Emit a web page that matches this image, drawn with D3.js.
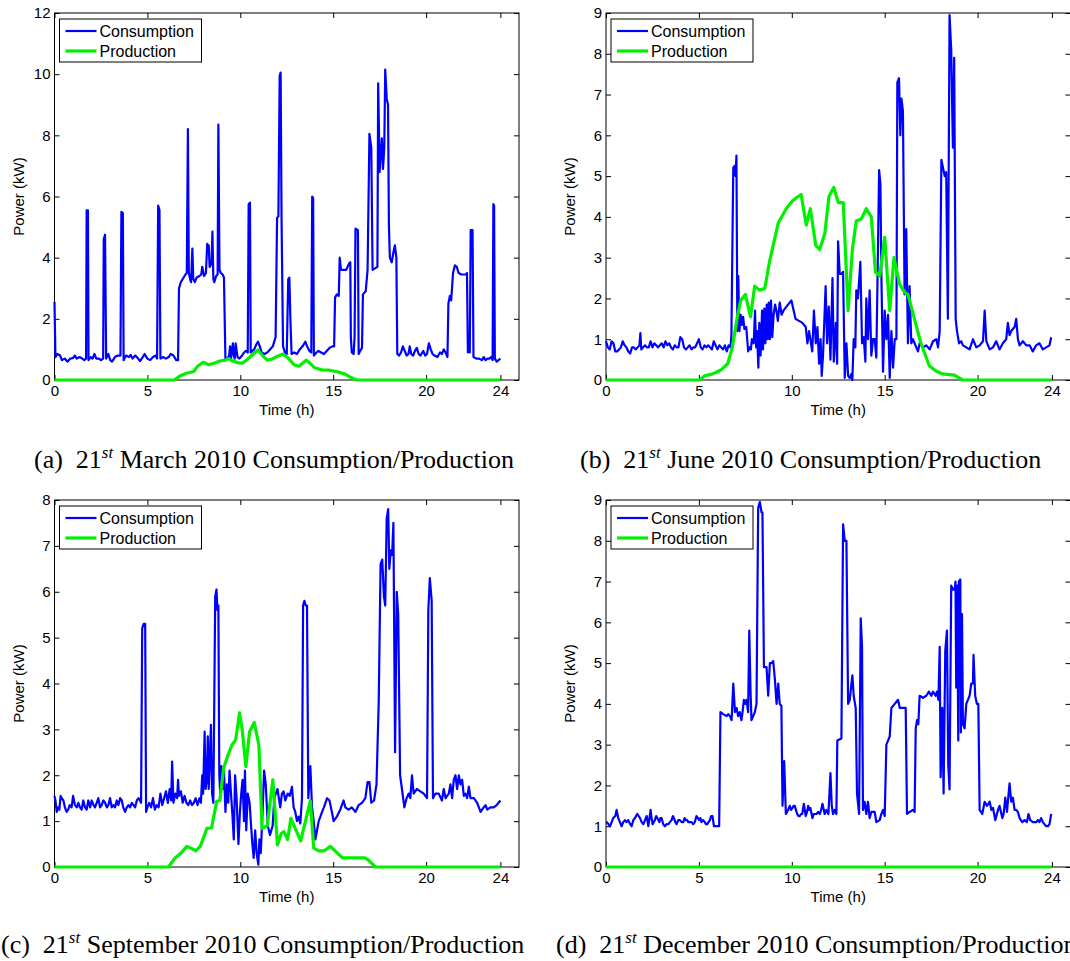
<!DOCTYPE html>
<html>
<head>
<meta charset="utf-8">
<script src="https://cdn.jsdelivr.net/npm/d3@7/dist/d3.min.js"></script>
<style>
  html, body { margin: 0; padding: 0; background: #fff; }
  svg { display: block; }
  .axis text { font-family: "Liberation Sans", Arial, sans-serif; font-size: 15px; fill: #000; }
  .axis path { display: none; }
  .axis line { stroke: #000; stroke-width: 1; }
</style>
</head>
<body>
<svg id="fig" width="1070" height="961"></svg>
<script>
// Household power, sampled over one day [hour, kW]

// 21 March 2010
const marchConsumption = [
  [0,2.55],[0.05,0.75],[0.15,0.85],[0.3,0.8],[0.4,0.65],[0.55,0.7],[0.7,0.6],[0.85,0.7],[1.0,0.72],[1.1,0.8],
  [1.2,0.7],[1.35,0.75],[1.5,0.7],[1.6,0.65],[1.7,0.7],[1.73,5.55],[1.8,5.55],[1.83,0.65],[1.95,0.75],[2.05,0.7],
  [2.15,0.85],[2.25,0.7],[2.4,0.7],[2.5,0.65],[2.62,0.7],[2.65,4.6],[2.72,4.75],[2.78,0.7],[2.9,0.85],[3.0,0.65],
  [3.1,0.6],[3.25,0.75],[3.4,0.8],[3.55,0.8],[3.6,5.5],[3.68,5.45],[3.72,0.65],[3.85,0.8],[4.0,0.75],[4.1,0.82],
  [4.2,0.7],[4.35,0.8],[4.5,0.7],[4.6,0.62],[4.75,0.75],[4.85,0.85],[5.0,0.7],[5.15,0.65],[5.3,0.75],[5.45,0.8],
  [5.52,0.7],[5.58,5.7],[5.65,5.55],[5.7,0.7],[5.85,0.75],[6.0,0.7],[6.15,0.75],[6.25,0.85],[6.4,0.8],[6.55,0.65],
  [6.65,0.65],[6.7,3.0],[6.8,3.2],[6.95,3.35],[7.05,3.45],[7.12,3.5],[7.18,8.2],[7.23,3.5],[7.3,3.3],[7.35,3.2],
  [7.42,4.3],[7.47,3.3],[7.55,3.2],[7.65,3.35],[7.8,3.4],[7.9,3.45],[7.95,3.7],[8.05,3.4],[8.15,3.5],[8.22,4.45],
  [8.27,4.2],[8.3,4.4],[8.35,3.7],[8.45,3.8],[8.5,4.85],[8.55,3.3],[8.6,3.2],[8.7,3.4],[8.78,3.45],[8.82,8.35],
  [8.88,3.6],[8.95,3.5],[9.05,3.45],[9.12,3.35],[9.2,0.65],[9.3,0.7],[9.4,0.8],[9.45,1.1],[9.5,0.7],[9.6,1.2],
  [9.65,0.8],[9.7,0.7],[9.75,1.2],[9.85,0.75],[9.95,0.7],[10.1,0.8],[10.2,0.9],[10.3,0.95],[10.4,0.9],[10.45,5.75],
  [10.52,5.8],[10.56,0.9],[10.65,0.95],[10.75,1.0],[10.85,1.15],[10.95,1.25],[11.05,1.1],[11.15,0.9],[11.3,0.85],[11.45,0.9],
  [11.6,1.0],[11.75,1.1],[11.9,1.4],[11.98,5.3],[12.05,5.35],[12.12,9.95],[12.17,10.05],[12.22,5.3],[12.3,1.1],[12.4,0.9],
  [12.5,0.85],[12.58,3.3],[12.64,3.35],[12.7,1.9],[12.76,0.85],[12.9,0.9],[13.05,0.85],[13.2,1.0],[13.35,1.1],[13.5,1.25],
  [13.6,1.1],[13.72,0.95],[13.82,0.9],[13.87,6.0],[13.92,5.95],[13.96,0.8],[14.1,0.9],[14.2,0.95],[14.35,0.9],[14.5,0.85],
  [14.65,0.95],[14.8,1.05],[14.95,1.1],[15.05,1.1],[15.1,2.7],[15.2,2.8],[15.3,2.75],[15.35,4.0],[15.42,3.6],[15.55,3.6],
  [15.7,3.6],[15.85,3.8],[15.92,3.85],[15.95,1.4],[16.0,0.9],[16.1,0.85],[16.15,1.4],[16.2,4.95],[16.33,4.9],[16.37,0.85],
  [16.45,0.95],[16.55,1.05],[16.6,2.8],[16.75,2.9],[16.85,3.6],[16.95,8.05],[17.05,7.6],[17.12,3.6],[17.25,3.65],[17.38,3.7],
  [17.42,9.7],[17.5,6.8],[17.55,7.3],[17.62,7.9],[17.68,6.9],[17.75,7.6],[17.8,10.15],[17.88,9.2],[17.95,9.0],[18.0,5.0],
  [18.05,4.0],[18.15,3.85],[18.25,4.2],[18.32,4.4],[18.4,4.0],[18.45,0.85],[18.55,0.8],[18.65,0.9],[18.75,1.1],[18.85,0.95],
  [18.95,0.8],[19.05,0.85],[19.12,1.1],[19.2,0.85],[19.3,0.8],[19.4,0.95],[19.5,1.05],[19.6,0.85],[19.7,0.8],[19.85,0.95],
  [19.95,0.8],[20.05,0.85],[20.15,1.2],[20.25,1.0],[20.35,0.85],[20.45,0.8],[20.6,0.75],[20.75,0.9],[20.85,0.85],[20.95,1.0],
  [21.05,0.9],[21.15,0.75],[21.2,2.5],[21.28,2.75],[21.35,2.6],[21.45,3.5],[21.55,3.75],[21.65,3.7],[21.75,3.5],[21.9,3.45],
  [22.05,3.45],[22.15,3.45],[22.2,3.5],[22.25,0.9],[22.3,1.35],[22.35,0.9],[22.4,4.9],[22.5,4.9],[22.55,0.75],[22.7,0.7],
  [22.85,0.7],[23.0,0.65],[23.1,0.75],[23.2,0.65],[23.3,0.7],[23.4,0.7],[23.5,0.75],[23.58,0.65],[23.62,5.75],[23.66,5.7],
  [23.7,0.7],[23.8,0.6],[23.9,0.65],[24.0,0.7]
];
const marchProduction = [
  [0,0],[6.45,0],[6.8,0.15],[7.1,0.22],[7.5,0.28],[7.7,0.45],[8.0,0.58],[8.3,0.5],[8.6,0.55],[8.9,0.62],
  [9.2,0.65],[9.35,0.7],[9.6,0.62],[9.9,0.56],[10.1,0.55],[10.4,0.68],[10.7,0.85],[10.95,0.98],[11.2,0.8],[11.45,0.65],
  [11.7,0.68],[12.0,0.78],[12.3,0.85],[12.6,0.7],[12.9,0.5],[13.15,0.45],[13.35,0.55],[13.55,0.65],[13.75,0.55],[14.0,0.4],
  [14.4,0.33],[14.8,0.32],[15.2,0.27],[15.6,0.2],[15.9,0.1],[16.25,0],[24,0]
];

// 21 June 2010
const juneConsumption = [
  [0,0.95],[0.1,0.8],[0.2,0.75],[0.3,0.95],[0.4,0.9],[0.5,0.7],[0.6,0.7],[0.7,0.75],[0.8,0.8],[0.9,0.95],
  [1.0,0.85],[1.1,0.8],[1.2,0.7],[1.3,0.65],[1.4,0.8],[1.5,0.8],[1.6,0.75],[1.7,0.8],[1.8,0.85],[1.85,1.15],
  [1.9,0.75],[2.0,0.8],[2.1,0.85],[2.2,0.8],[2.3,0.8],[2.4,0.95],[2.5,0.8],[2.6,0.9],[2.7,0.85],[2.8,0.8],
  [2.9,0.85],[3.0,0.9],[3.1,0.8],[3.2,0.95],[3.3,0.85],[3.4,0.9],[3.5,0.8],[3.6,0.75],[3.7,0.85],[3.8,0.8],
  [3.9,0.8],[4.0,1.05],[4.1,1.0],[4.2,0.8],[4.3,0.75],[4.4,0.8],[4.5,0.85],[4.6,0.75],[4.7,0.8],[4.8,0.8],
  [4.9,0.9],[5.0,1.0],[5.1,0.8],[5.2,0.75],[5.3,0.85],[5.4,0.8],[5.5,0.85],[5.6,0.8],[5.7,0.75],[5.8,0.95],
  [5.9,0.85],[6.0,0.75],[6.1,0.85],[6.2,0.8],[6.3,0.75],[6.4,0.85],[6.5,0.7],[6.6,0.85],[6.7,0.8],[6.75,1.1],
  [6.85,5.2],[6.92,5.25],[6.97,5.0],[7.02,5.5],[7.07,1.2],[7.12,2.55],[7.18,1.2],[7.25,1.6],[7.3,1.35],[7.38,1.55],
  [7.45,1.25],[7.55,1.3],[7.65,0.7],[7.72,0.8],[7.8,0.75],[7.85,1.0],[7.95,0.9],[8.02,1.7],[8.08,0.8],[8.13,1.2],
  [8.2,0.3],[8.25,1.4],[8.32,0.6],[8.4,1.7],[8.45,0.75],[8.52,1.75],[8.58,0.9],[8.65,1.85],[8.7,1.0],[8.76,1.9],
  [8.82,1.0],[8.88,1.95],[8.95,1.05],[9.02,1.6],[9.1,1.85],[9.17,1.7],[9.25,1.45],[9.35,1.9],[9.45,1.6],[9.55,1.7],
  [9.71,1.8],[9.98,1.95],[10.05,1.8],[10.2,1.5],[10.39,1.45],[10.57,1.4],[10.75,1.3],[10.84,0.9],[10.93,1.2],[11.1,0.7],
  [11.19,1.7],[11.29,0.9],[11.38,1.3],[11.47,0.4],[11.55,1.0],[11.61,0.1],[11.68,0.6],[11.82,2.3],[11.9,0.9],[11.99,1.8],
  [12.08,0.5],[12.19,2.5],[12.26,0.45],[12.37,1.4],[12.44,0.4],[12.49,3.4],[12.58,2.6],[12.67,2.6],[12.76,2.65],[12.85,0.05],
  [12.94,0.9],[13.03,0.1],[13.12,0.05],[13.21,0.15],[13.26,0.0],[13.33,1.0],[13.42,0.8],[13.47,2.2],[13.56,2.0],[13.69,2.9],
  [13.78,0.9],[13.87,1.05],[13.96,0.45],[14.01,2.0],[14.1,1.0],[14.19,2.2],[14.28,0.6],[14.37,1.0],[14.46,1.0],[14.55,0.55],
  [14.7,5.15],[14.77,4.8],[14.82,2.6],[14.91,0.2],[15.0,1.7],[15.09,1.0],[15.18,1.6],[15.27,0.05],[15.36,1.2],[15.45,0.3],
  [15.54,1.0],[15.63,1.0],[15.68,7.3],[15.77,7.4],[15.84,6.0],[15.9,6.9],[15.98,6.6],[16.07,2.1],[16.16,3.7],[16.25,0.9],
  [16.34,2.3],[16.43,0.9],[16.52,1.0],[16.7,0.8],[16.79,0.7],[16.88,0.9],[17.06,0.8],[17.24,0.85],[17.42,0.75],[17.6,0.95],
  [17.78,1.0],[17.87,0.8],[17.96,1.2],[18.05,5.4],[18.14,5.2],[18.23,5.0],[18.31,5.1],[18.4,1.5],[18.49,8.95],[18.58,8.1],
  [18.67,5.7],[18.74,7.9],[18.82,1.5],[18.89,1.2],[19.0,0.9],[19.12,0.95],[19.21,0.85],[19.39,0.8],[19.57,0.75],[19.75,1.0],
  [19.93,0.8],[20.11,0.85],[20.29,0.95],[20.38,1.7],[20.47,0.95],[20.65,0.75],[20.83,0.8],[21.0,0.95],[21.18,0.75],[21.36,0.9],
  [21.54,1.0],[21.63,1.4],[21.72,1.1],[21.81,1.2],[21.99,1.3],[22.08,1.5],[22.17,1.0],[22.26,0.85],[22.44,0.95],[22.62,0.85],
  [22.8,0.85],[22.97,0.7],[23.15,0.85],[23.33,0.9],[23.51,0.75],[23.69,0.8],[23.87,0.85],[23.96,1.05]
];
const juneProduction = [
  [0,0],[5.05,0],[5.3,0.1],[5.75,0.15],[6.2,0.25],[6.55,0.4],[6.8,0.8],[7.05,1.5],[7.25,1.95],[7.5,2.1],
  [7.78,1.55],[8.0,2.3],[8.28,2.2],[8.55,2.25],[8.8,2.9],[9.27,3.85],[9.7,4.2],[10.05,4.4],[10.5,4.55],[10.78,3.8],
  [11.0,4.2],[11.29,3.3],[11.5,3.2],[11.78,3.6],[12.0,4.5],[12.26,4.72],[12.5,4.35],[12.77,4.35],[13.03,1.7],[13.26,3.2],
  [13.47,3.9],[13.74,3.95],[14.01,4.2],[14.28,4.0],[14.5,2.65],[14.73,2.55],[15.0,3.5],[15.27,1.7],[15.5,3.0],[15.8,2.35],
  [16.07,2.15],[16.25,2.1],[16.6,1.5],[16.95,0.9],[17.4,0.35],[17.76,0.22],[18.1,0.15],[18.75,0.12],[19.2,0],[24,0]
];

// 21 September 2010
const septemberConsumption = [
  [0,1.55],[0.05,1.45],[0.12,1.2],[0.2,1.3],[0.26,1.25],[0.33,1.55],[0.39,1.5],[0.48,1.45],[0.56,1.3],[0.65,1.2],
  [0.74,1.25],[0.82,1.35],[0.92,1.3],[1.0,1.55],[1.1,1.35],[1.2,1.3],[1.28,1.4],[1.37,1.3],[1.46,1.25],[1.55,1.45],
  [1.64,1.3],[1.73,1.25],[1.82,1.45],[1.92,1.3],[2.0,1.45],[2.1,1.35],[2.18,1.3],[2.27,1.4],[2.36,1.5],[2.45,1.3],
  [2.54,1.35],[2.63,1.45],[2.72,1.4],[2.82,1.3],[2.9,1.35],[2.99,1.5],[3.08,1.3],[3.17,1.35],[3.26,1.3],[3.35,1.45],
  [3.44,1.35],[3.53,1.5],[3.62,1.45],[3.7,1.3],[3.8,1.2],[3.89,1.3],[3.98,1.35],[4.07,1.3],[4.16,1.4],[4.25,1.35],
  [4.34,1.3],[4.43,1.45],[4.52,1.5],[4.6,1.45],[4.66,1.4],[4.72,5.2],[4.8,5.3],[4.88,5.3],[4.93,1.2],[5.0,1.3],
  [5.1,1.4],[5.2,1.3],[5.3,1.5],[5.4,1.25],[5.5,1.35],[5.6,1.3],[5.7,1.6],[5.8,1.35],[5.9,1.5],[6.0,1.65],
  [6.1,1.4],[6.2,1.7],[6.28,1.45],[6.33,2.3],[6.4,1.4],[6.5,1.6],[6.6,1.5],[6.65,1.9],[6.7,1.55],[6.8,1.65],
  [6.9,1.4],[7.0,1.55],[7.1,1.4],[7.2,1.35],[7.3,1.45],[7.4,1.35],[7.5,1.4],[7.6,1.5],[7.7,1.35],[7.8,1.5],
  [7.88,1.4],[7.95,2.0],[8.0,1.6],[8.08,2.95],[8.13,1.7],[8.2,1.9],[8.25,2.85],[8.3,1.7],[8.42,3.1],[8.48,1.6],
  [8.55,1.4],[8.65,5.9],[8.72,6.05],[8.77,5.6],[8.82,5.7],[8.87,2.0],[8.93,1.5],[8.98,2.2],[9.05,1.7],[9.12,2.1],
  [9.2,1.2],[9.28,1.8],[9.35,1.4],[9.42,2.1],[9.5,1.6],[9.58,1.1],[9.65,0.6],[9.72,2.0],[9.8,1.5],[9.9,0.5],
  [9.98,1.2],[10.05,1.6],[10.12,1.9],[10.2,1.0],[10.25,2.1],[10.32,0.8],[10.4,1.6],[10.5,1.4],[10.58,0.9],[10.65,0.5],
  [10.72,0.2],[10.8,0.8],[10.88,0.3],[10.97,0.05],[11.03,0.6],[11.1,0.3],[11.2,1.2],[11.28,2.1],[11.37,1.8],[11.48,0.9],
  [11.6,0.7],[11.74,0.9],[11.83,1.5],[12.0,1.7],[12.15,1.3],[12.24,1.6],[12.33,1.65],[12.42,1.45],[12.55,1.6],[12.66,1.55],
  [12.78,1.75],[12.87,1.3],[12.96,1.2],[13.05,1.0],[13.14,1.1],[13.23,0.95],[13.32,1.5],[13.38,5.7],[13.45,5.8],[13.52,5.7],
  [13.59,5.7],[13.66,1.5],[13.77,2.2],[13.86,1.3],[13.95,1.0],[14.04,0.6],[14.13,0.8],[14.22,1.0],[14.31,1.1],[14.4,1.2],
  [14.5,1.3],[14.67,1.5],[14.8,1.45],[14.93,1.2],[15.02,1.0],[15.2,1.1],[15.38,1.25],[15.56,1.45],[15.65,1.3],[15.83,1.25],
  [16.0,1.3],[16.2,1.2],[16.37,1.35],[16.55,1.4],[16.73,1.5],[16.85,1.85],[16.95,1.85],[17.05,1.4],[17.2,1.45],[17.33,1.8],
  [17.45,3.6],[17.55,6.6],[17.64,6.7],[17.73,5.9],[17.8,5.7],[17.88,7.6],[17.96,7.8],[18.02,6.5],[18.1,6.9],[18.17,6.8],
  [18.24,7.5],[18.33,2.5],[18.42,6.0],[18.5,5.5],[18.6,2.0],[18.7,1.7],[18.83,1.3],[18.95,1.5],[19.06,1.6],[19.15,1.5],
  [19.24,2.0],[19.33,1.6],[19.5,1.7],[19.69,1.65],[19.87,1.6],[20.05,1.5],[20.12,5.6],[20.2,6.3],[20.3,5.8],[20.37,1.5],
  [20.5,1.6],[20.68,1.6],[20.85,1.45],[20.95,1.7],[21.05,1.5],[21.22,1.6],[21.31,1.8],[21.4,1.5],[21.49,1.9],[21.58,2.0],
  [21.67,1.7],[21.76,2.0],[21.85,1.8],[21.94,1.9],[22.03,1.55],[22.12,1.6],[22.21,1.5],[22.3,1.75],[22.39,1.5],[22.57,1.5],
  [22.75,1.4],[22.93,1.2],[23.1,1.3],[23.2,1.35],[23.29,1.25],[23.46,1.3],[23.64,1.3],[23.8,1.35],[23.9,1.4],[24.0,1.45]
];
const septemberProduction = [
  [0,0],[6.13,0],[6.5,0.2],[6.8,0.3],[7.12,0.45],[7.4,0.4],[7.6,0.35],[7.85,0.45],[8.2,0.84],[8.45,0.85],
  [8.73,1.43],[8.9,1.45],[9.1,2.15],[9.3,2.4],[9.55,2.66],[9.75,2.77],[9.96,3.36],[10.1,3.0],[10.3,2.19],[10.5,2.95],
  [10.75,3.15],[11.0,2.66],[11.17,0.84],[11.45,0.9],[11.75,1.9],[12.0,0.48],[12.2,0.73],[12.35,0.77],[12.55,0.6],[12.72,1.06],
  [13.25,0.57],[13.77,1.44],[13.95,0.41],[14.22,0.35],[14.5,0.35],[14.85,0.45],[15.1,0.35],[15.5,0.2],[16.2,0.2],[16.7,0.2],
  [16.9,0.15],[17.27,0],[24,0]
];

// 21 December 2010
const decemberConsumption = [
  [0,1.1],[0.04,1.1],[0.22,1.0],[0.39,1.2],[0.5,1.25],[0.57,1.4],[0.66,1.2],[0.75,1.1],[0.84,1.0],[0.93,1.1],
  [1.02,1.15],[1.1,1.1],[1.2,1.15],[1.3,1.05],[1.38,1.0],[1.47,1.15],[1.56,1.2],[1.68,1.3],[1.76,1.25],[1.83,1.2],
  [1.92,1.1],[2.01,1.05],[2.1,1.15],[2.19,1.25],[2.28,1.0],[2.4,1.4],[2.45,1.2],[2.51,1.05],[2.57,1.1],[2.63,1.15],
  [2.7,1.25],[2.76,1.2],[2.82,1.15],[2.87,1.1],[2.93,1.2],[2.99,1.2],[3.08,1.05],[3.17,1.0],[3.26,1.05],[3.35,1.05],
  [3.44,1.1],[3.53,1.15],[3.6,1.25],[3.66,1.2],[3.73,1.1],[3.8,1.05],[3.89,1.15],[3.98,1.15],[4.07,1.1],[4.16,1.1],
  [4.23,1.2],[4.3,1.15],[4.37,1.15],[4.43,1.1],[4.52,1.1],[4.61,1.1],[4.7,1.05],[4.78,1.1],[4.87,1.25],[4.95,1.2],
  [5.02,1.15],[5.08,1.2],[5.14,1.1],[5.23,1.15],[5.32,1.1],[5.38,1.05],[5.45,1.05],[5.52,1.1],[5.59,1.15],[5.66,1.25],
  [5.73,1.25],[5.81,1.0],[5.88,1.0],[5.95,1.0],[6.09,1.0],[6.16,3.8],[6.31,3.75],[6.49,3.7],[6.58,3.75],[6.67,3.7],
  [6.76,3.6],[6.85,4.5],[6.94,3.8],[7.03,3.9],[7.11,3.7],[7.2,3.8],[7.29,3.6],[7.35,3.8],[7.42,4.1],[7.5,4.0],
  [7.56,4.1],[7.65,3.8],[7.71,5.8],[7.78,4.3],[7.83,3.6],[7.92,3.7],[8.01,3.8],[8.1,4.0],[8.19,8.8],[8.28,8.95],
  [8.37,8.7],[8.42,8.7],[8.5,4.9],[8.64,4.9],[8.73,4.2],[8.82,5.0],[8.91,5.0],[9.0,5.05],[9.09,4.6],[9.18,4.0],
  [9.27,4.5],[9.35,4.0],[9.44,3.95],[9.5,1.5],[9.59,2.6],[9.68,1.3],[9.8,1.4],[9.89,1.5],[9.96,1.4],[10.04,1.45],
  [10.1,1.5],[10.16,1.5],[10.29,1.3],[10.36,1.25],[10.43,1.25],[10.5,1.3],[10.56,1.3],[10.65,1.55],[10.75,1.25],[10.82,1.35],
  [10.88,1.5],[10.94,1.4],[11.0,1.45],[11.11,1.2],[11.18,1.3],[11.24,1.3],[11.33,1.3],[11.42,1.35],[11.51,1.3],[11.58,1.4],
  [11.65,1.55],[11.77,1.3],[11.86,1.4],[11.97,1.3],[12.08,2.3],[12.15,1.5],[12.22,1.3],[12.31,1.4],[12.4,1.3],[12.45,3.1],
  [12.67,3.15],[12.76,8.4],[12.85,8.0],[12.94,8.0],[13.03,4.0],[13.12,4.1],[13.21,4.5],[13.26,4.7],[13.33,4.2],[13.44,3.9],
  [13.51,1.8],[13.62,1.3],[13.71,6.1],[13.78,5.4],[13.83,1.4],[13.92,1.6],[14.01,1.3],[14.1,1.6],[14.19,1.2],[14.28,1.35],
  [14.46,1.35],[14.55,1.1],[14.73,1.15],[14.82,1.3],[14.91,1.4],[15.0,1.25],[15.09,3.0],[15.18,3.1],[15.27,3.2],[15.36,3.9],
  [15.54,4.0],[15.72,4.1],[15.81,3.9],[15.99,3.9],[16.13,3.9],[16.2,1.3],[16.34,1.35],[16.52,1.4],[16.61,1.35],[16.67,3.4],
  [16.74,3.6],[16.81,3.5],[16.88,4.2],[17.06,4.15],[17.24,4.2],[17.38,4.3],[17.51,4.2],[17.6,4.3],[17.74,4.2],[17.81,4.3],
  [17.89,4.1],[17.96,5.4],[18.01,2.2],[18.1,3.9],[18.17,1.8],[18.26,5.3],[18.35,5.8],[18.42,2.5],[18.49,1.9],[18.58,6.9],
  [18.67,6.8],[18.76,6.8],[18.81,7.0],[18.85,4.4],[18.9,6.9],[18.96,3.1],[18.99,7.0],[19.07,7.05],[19.1,3.3],[19.16,6.2],
  [19.21,3.5],[19.3,3.4],[19.39,4.0],[19.48,4.1],[19.57,4.2],[19.66,4.5],[19.75,4.5],[19.78,5.2],[19.87,4.2],[19.96,4.0],
  [20.04,4.0],[20.11,1.4],[20.25,1.3],[20.38,1.6],[20.5,1.5],[20.65,1.6],[20.74,1.4],[20.83,1.45],[20.95,1.15],[21.1,1.4],
  [21.18,1.5],[21.33,1.2],[21.4,1.3],[21.49,1.7],[21.58,1.35],[21.72,2.05],[21.81,1.6],[21.9,1.7],[21.99,1.4],[22.08,1.4],
  [22.17,1.35],[22.26,1.2],[22.4,1.1],[22.53,1.15],[22.65,1.1],[22.74,1.3],[22.83,1.15],[22.98,1.1],[23.15,1.1],[23.25,1.15],
  [23.33,1.1],[23.42,1.2],[23.51,1.1],[23.6,1.05],[23.69,1.0],[23.78,1.0],[23.87,1.05],[23.96,1.3]
];
const decemberProduction = [[0,0],[24,0]];

// Axis tick values and captions
const hourTicks = [0, 5, 10, 15, 20, 24];
const seriesNames = ["Consumption", "Production"];
const captionLetters = ["(a)", "(b)", "(c)", "(d)"];
const captionMonths = ["March", "June", "September", "December"];
const yMaxima = [12, 9, 8, 9];
const yTickSteps = [2, 1, 1, 1];

const colors = { consumption: "#0000ff", production: "#00f000" };

const panels = [
  { cons: marchConsumption,     prod: marchProduction,     left: 54.5, top: 13,  capX: 34,  capY: 468 },
  { cons: juneConsumption,      prod: juneProduction,      left: 606,  top: 13,  capX: 580, capY: 468 },
  { cons: septemberConsumption, prod: septemberProduction, left: 54.5, top: 500, capX: 1,   capY: 953 },
  { cons: decemberConsumption,  prod: decemberProduction,  left: 606,  top: 500, capX: 556, capY: 953 }
];

const plotW = 464.5, plotH = 367, tickLen = 5;
const svg = d3.select("#fig");

panels.forEach((p, i) => {
  const g = svg.append("g");
  const x = d3.scaleLinear().domain([0, 25]).range([p.left, p.left + plotW]);
  const y = d3.scaleLinear().domain([0, yMaxima[i]]).range([p.top + plotH, p.top]);
  const yTicks = d3.range(0, yMaxima[i] + 0.001, yTickSteps[i]);

  // mirrored inward ticks on all four sides
  g.append("g").attr("class", "axis")
    .attr("transform", `translate(0,${p.top + plotH})`)
    .call(d3.axisBottom(x).tickValues(hourTicks).tickSizeInner(-tickLen).tickSizeOuter(0).tickPadding(5));
  g.append("g").attr("class", "axis")
    .attr("transform", `translate(0,${p.top})`)
    .call(d3.axisTop(x).tickValues(hourTicks).tickSizeInner(-tickLen).tickSizeOuter(0).tickFormat(""));
  g.append("g").attr("class", "axis")
    .attr("transform", `translate(${p.left},0)`)
    .call(d3.axisLeft(y).tickValues(yTicks).tickSizeInner(-tickLen).tickSizeOuter(0).tickPadding(4));
  g.append("g").attr("class", "axis")
    .attr("transform", `translate(${p.left + plotW},0)`)
    .call(d3.axisRight(y).tickValues(yTicks).tickSizeInner(-tickLen).tickSizeOuter(0).tickFormat(""));

  // box
  g.append("rect")
    .attr("x", p.left).attr("y", p.top).attr("width", plotW).attr("height", plotH)
    .attr("fill", "none").attr("stroke", "#000").attr("stroke-width", 1);

  const line = d3.line().x(d => x(d[0])).y(d => y(d[1]));
  g.append("path").datum(p.cons).attr("d", line)
    .attr("fill", "none").attr("stroke", colors.consumption).attr("stroke-width", 2.2)
    .attr("stroke-linejoin", "round");
  g.append("path").datum(p.prod).attr("d", line)
    .attr("fill", "none").attr("stroke", colors.production).attr("stroke-width", 3.2)
    .attr("stroke-linejoin", "round");

  // axis titles
  g.append("text")
    .attr("x", (p.left + p.left + plotW) / 2).attr("y", p.top + plotH + 35)
    .attr("text-anchor", "middle")
    .style("font-family", "'Liberation Sans', Arial, sans-serif").style("font-size", "15px")
    .text("Time (h)");
  g.append("text")
    .attr("transform", `translate(${p.left - 31},${p.top + plotH / 2}) rotate(-90)`)
    .attr("text-anchor", "middle")
    .style("font-family", "'Liberation Sans', Arial, sans-serif").style("font-size", "15px")
    .text("Power (kW)");

  // legend
  const lx = p.left + 5, ly = p.top + 6;
  const lg = g.append("g");
  lg.append("rect").attr("x", lx).attr("y", ly).attr("width", 142).attr("height", 43)
    .attr("fill", "#fff").attr("stroke", "#000").attr("stroke-width", 1);
  [colors.consumption, colors.production].forEach((c, k) => {
    const yy = ly + 12 + k * 20;
    lg.append("line").attr("x1", lx + 6).attr("x2", lx + 37).attr("y1", yy).attr("y2", yy)
      .attr("stroke", c).attr("stroke-width", k === 0 ? 2.2 : 3.2);
    lg.append("text").attr("x", lx + 40).attr("y", yy + 5.5)
      .style("font-family", "'Liberation Sans', Arial, sans-serif").style("font-size", "16px")
      .text(seriesNames[k]);
  });

  // subfigure caption
  const cap = svg.append("text")
    .attr("x", p.capX).attr("y", p.capY)
    .style("font-family", "'Liberation Serif', 'Times New Roman', serif").style("font-size", "26px");
  cap.append("tspan").text(captionLetters[i] + "\u2002" + "21");
  cap.append("tspan").attr("dy", -10).style("font-size", "17px").style("font-style", "italic").text("st");
  cap.append("tspan").attr("dy", 10).text(" " + captionMonths[i] + " 2010 Consumption/Production");
});
</script>
</body>
</html>
